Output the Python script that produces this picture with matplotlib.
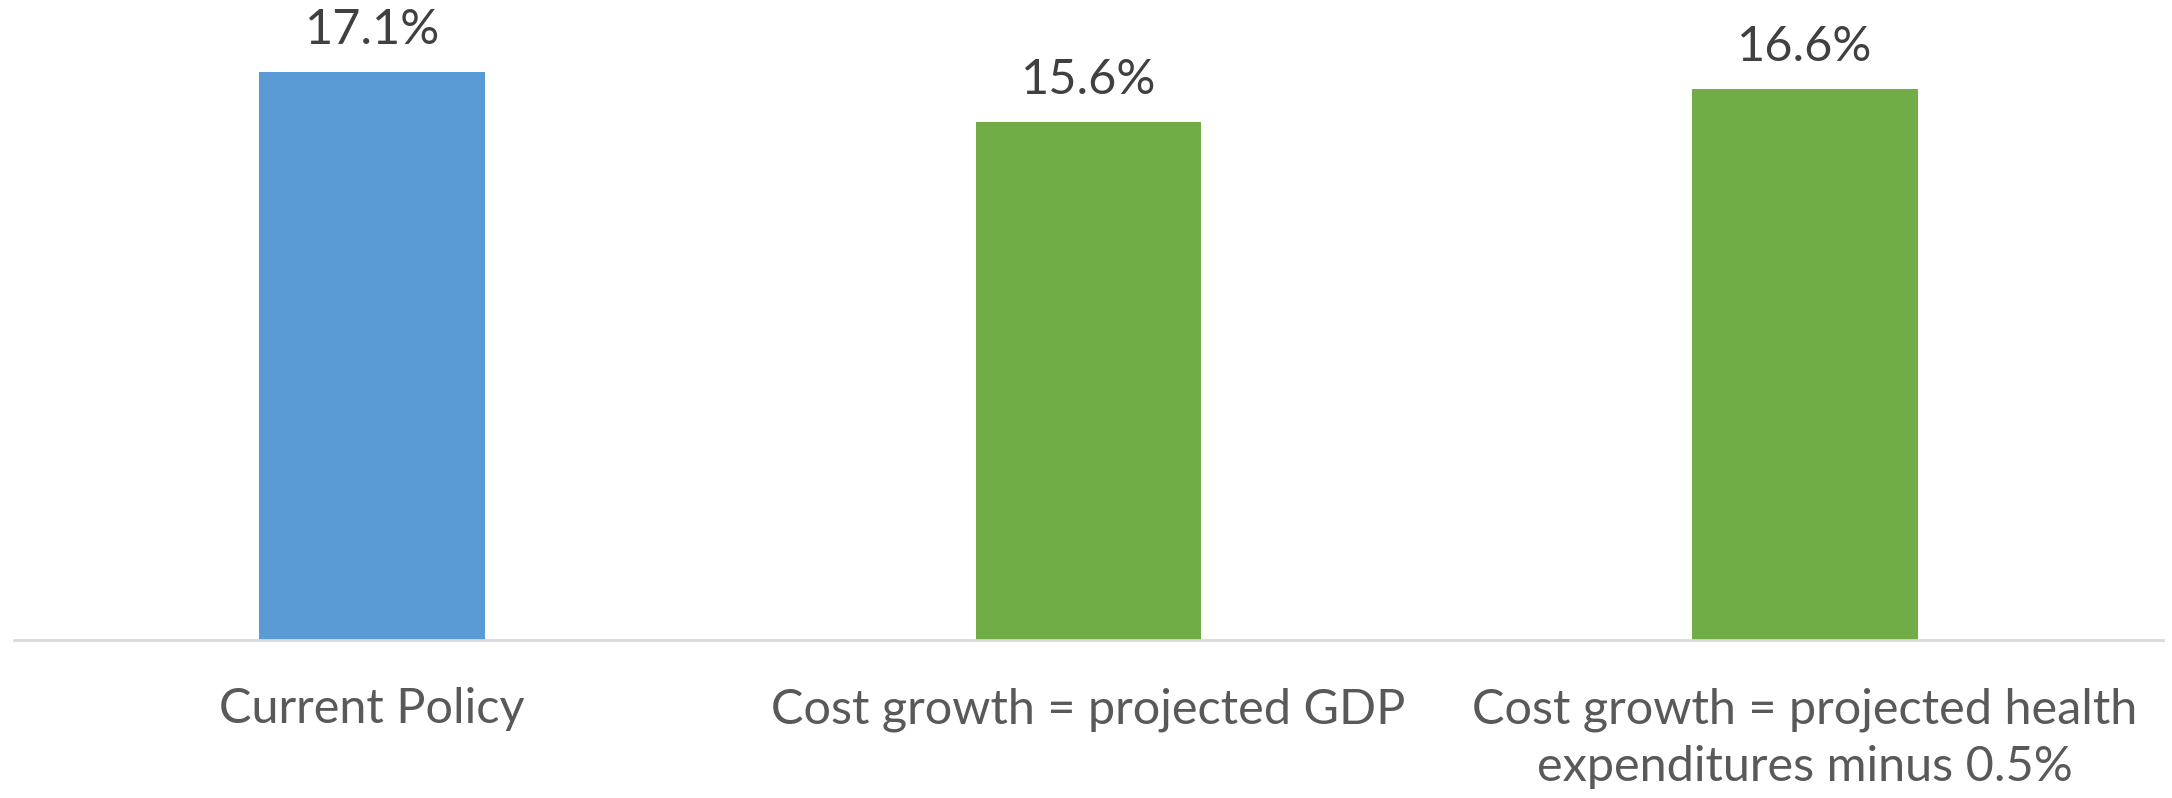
import matplotlib
matplotlib.use("Agg")
import matplotlib.pyplot as plt

categories = ["Current Policy", "Cost growth = projected GDP",
              "Cost growth = projected health\nexpenditures minus 0.5%"]
values = [17.1, 15.6, 16.6]
labels = ["17.1%", "15.6%", "16.6%"]
colors = ["#5B9BD5", "#70AD47", "#70AD47"]

plt.rcParams['font.family'] = ['Lato', 'DejaVu Sans']

fig = plt.figure(figsize=(21.72, 7.98), dpi=100)
ax = fig.add_axes([14/2172, 158/798, 2149/2172, 640/798])
x = list(range(len(categories)))
ax.bar(x, values, width=0.315, color=colors, zorder=2)
ax.set_xlim(-0.5, 2.5)
ax.set_ylim(0, 640/33.2)
for xi, v, lab in zip(x, values, labels):
    ax.annotate(lab, (xi, v), xytext=(0, 20), textcoords='offset pixels',
                ha='center', va='bottom', fontsize=35, color='#404040')
for s in ['top', 'right', 'left']:
    ax.spines[s].set_visible(False)
ax.spines['bottom'].set_color('#D9D9D9')
ax.spines['bottom'].set_linewidth(2)
ax.set_yticks([])
ax.set_xticks(x)
ax.set_xticklabels(categories, fontsize=35, color='#595959', linespacing=1.36, va='top')
ax.tick_params(axis='x', length=0, pad=34)
fig.savefig("out.png", dpi=100)
